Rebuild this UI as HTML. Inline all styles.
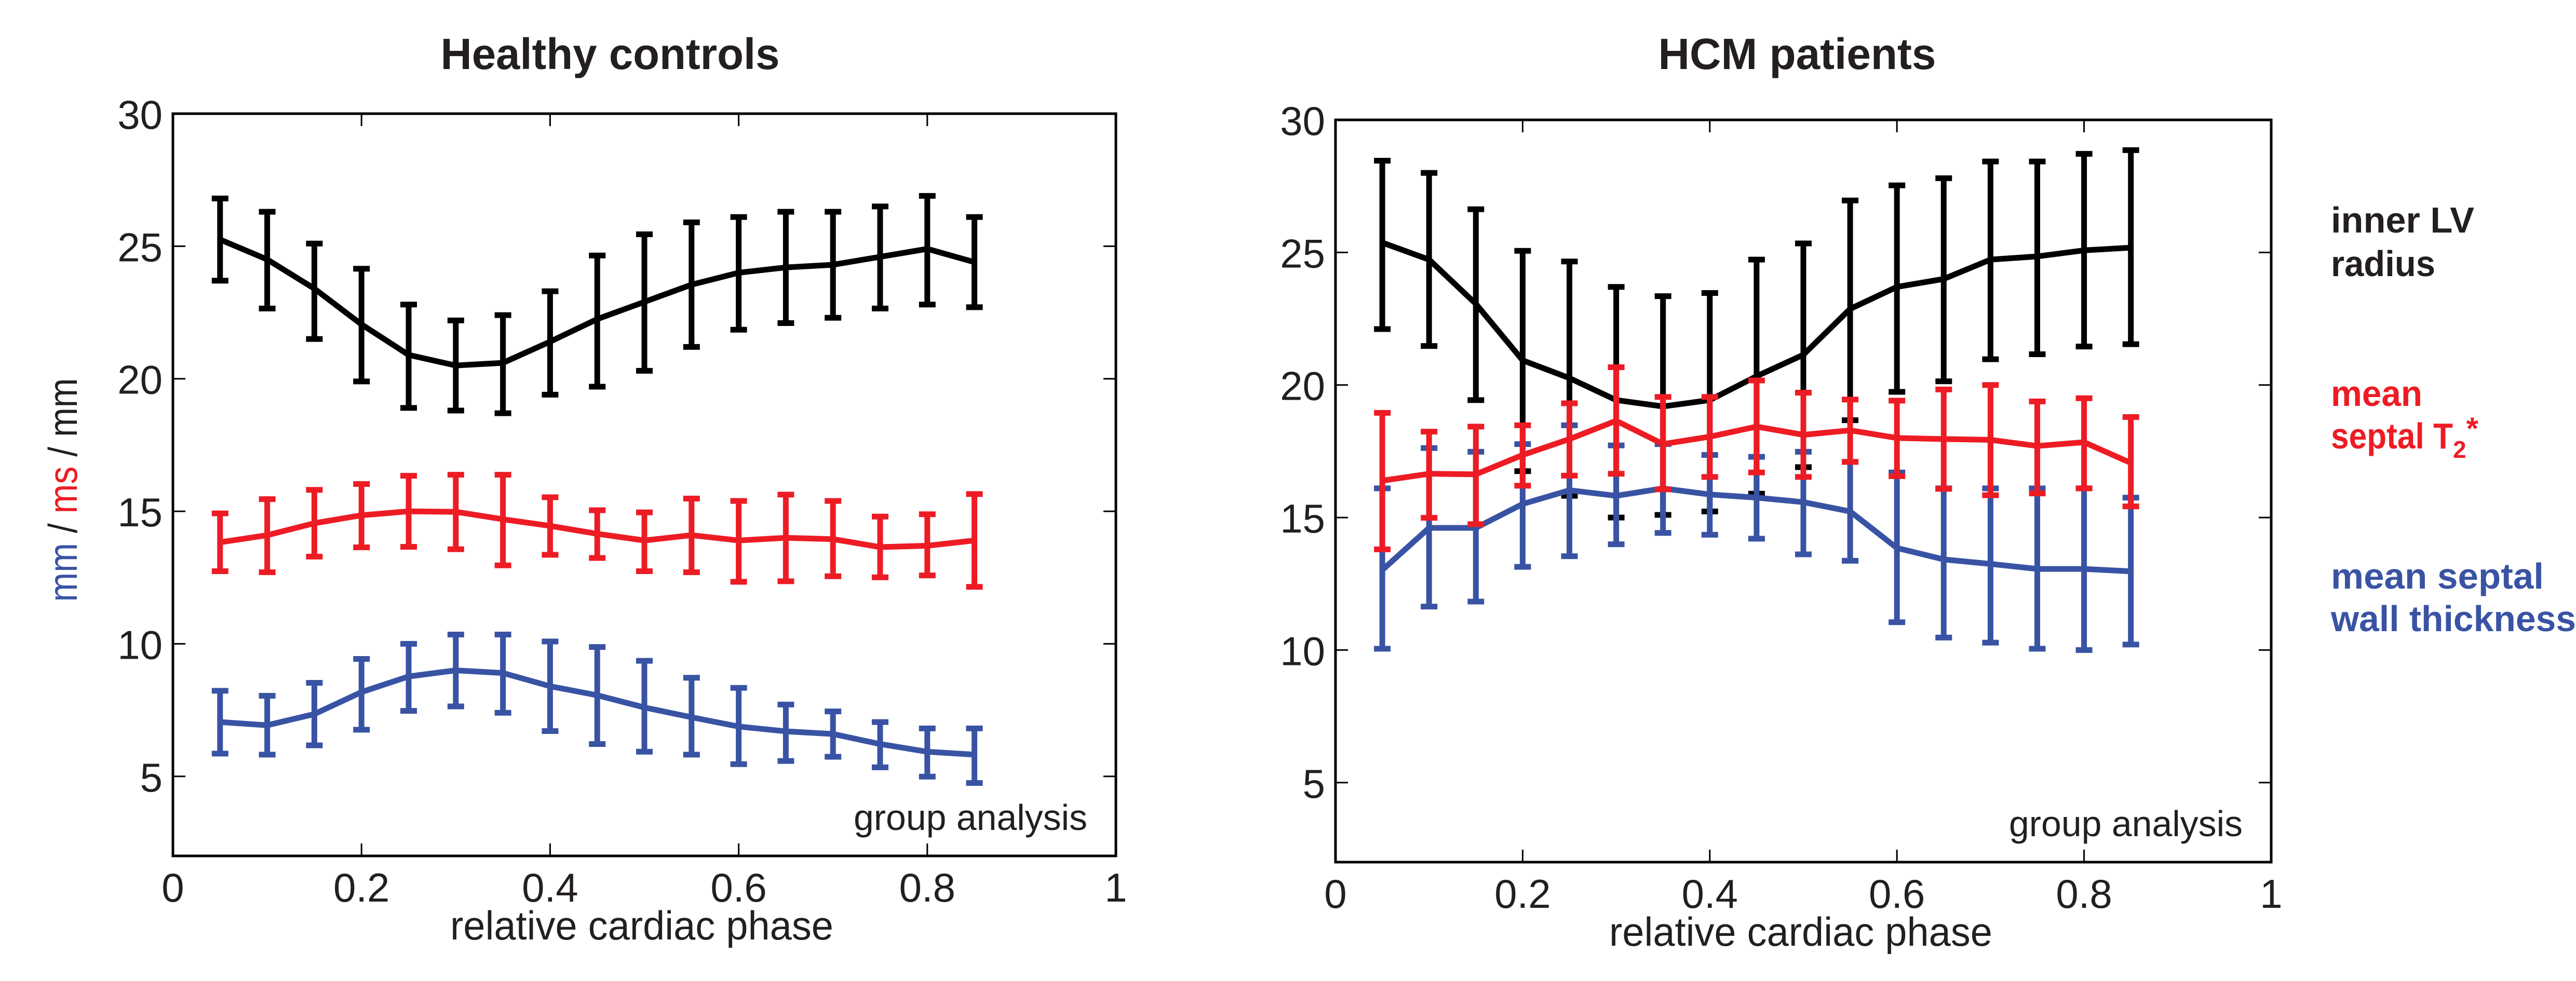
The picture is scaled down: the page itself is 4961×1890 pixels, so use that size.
<!DOCTYPE html>
<html><head><meta charset="utf-8"><style>
html,body{margin:0;padding:0;background:#fff;}
svg{display:block;font-family:"Liberation Sans",Arial,sans-serif;}
</style></head><body>
<svg id="chart" width="4961" height="1890" viewBox="0 0 4961 1890" xmlns="http://www.w3.org/2000/svg">
<rect width="4961" height="1890" fill="#fff"/>
<g id="plots"></g>
<text x="4489" y="448" font-size="70" font-weight="bold" fill="#231f20" textLength="276" lengthAdjust="spacingAndGlyphs">inner LV</text>
<text x="4489" y="532" font-size="70" font-weight="bold" fill="#231f20" textLength="201" lengthAdjust="spacingAndGlyphs">radius</text>
<text x="4489" y="782" font-size="70" font-weight="bold" fill="#ed1c24" textLength="176" lengthAdjust="spacingAndGlyphs">mean</text>
<text x="4489" y="864" font-size="70" font-weight="bold" fill="#ed1c24"><tspan textLength="235" lengthAdjust="spacingAndGlyphs">septal T</tspan><tspan font-size="46" dy="18">2</tspan><tspan dy="-36" font-size="60">*</tspan></text>
<text x="4489" y="1134" font-size="70" font-weight="bold" fill="#3953a4" textLength="410" lengthAdjust="spacingAndGlyphs">mean septal</text>
<text x="4489" y="1216" font-size="70" font-weight="bold" fill="#3953a4" textLength="472" lengthAdjust="spacingAndGlyphs">wall thickness</text>
<text transform="translate(148,944) rotate(-90)" text-anchor="middle" font-size="78" textLength="431" lengthAdjust="spacingAndGlyphs"><tspan fill="#3953a4">mm</tspan><tspan fill="#231f20"> / </tspan><tspan fill="#ed1c24">ms</tspan><tspan fill="#231f20"> / mm</tspan></text>
</svg>
<script>
const phases = [0.05,0.1,0.15,0.2,0.25,0.3,0.35,0.4,0.45,0.5,0.55,0.6,0.65,0.7,0.75,0.8,0.85];
const xTicks = [0,0.2,0.4,0.6,0.8,1];
const xTickLabels = ["0","0.2","0.4","0.6","0.8","1"];
const yTicks = [5,10,15,20,25,30];
const yTickLabels = ["5","10","15","20","25","30"];

// Healthy controls
const hcRadiusMean = [25.25,24.5,23.4,22.05,20.9,20.5,20.6,21.4,22.25,22.9,23.55,24.0,24.2,24.3,24.6,24.9,24.4];
const hcRadiusHi = [26.8,26.3,25.1,24.15,22.8,22.2,22.4,23.3,24.65,25.45,25.9,26.1,26.3,26.3,26.5,26.9,26.1];
const hcRadiusLo = [23.7,22.65,21.5,19.9,18.9,18.8,18.7,19.4,19.7,20.3,21.2,21.85,22.1,22.3,22.65,22.8,22.7];
const hcT2Mean = [13.83,14.1,14.55,14.85,15.0,14.98,14.7,14.45,14.15,13.9,14.1,13.9,14.0,13.95,13.65,13.7,13.9];
const hcT2Hi = [14.92,15.46,15.81,16.03,16.34,16.38,16.38,15.53,15.04,14.96,15.48,15.39,15.63,15.39,14.8,14.89,15.65];
const hcT2Lo = [12.74,12.7,13.29,13.64,13.66,13.57,12.96,13.36,13.24,12.74,12.7,12.34,12.36,12.55,12.51,12.58,12.15];
const hcWallMean = [7.05,6.93,7.35,8.18,8.77,9.0,8.9,8.4,8.06,7.6,7.23,6.88,6.7,6.6,6.22,5.93,5.82];
const hcWallHi = [8.23,8.04,8.53,9.43,10.0,10.35,10.35,10.09,9.88,9.36,8.72,8.34,7.71,7.45,7.05,6.81,6.81];
const hcWallLo = [5.86,5.82,6.17,6.76,7.47,7.64,7.4,6.71,6.22,5.93,5.82,5.46,5.58,5.74,5.34,4.99,4.75];

// HCM patients
const hcmRadiusMean = [25.37,24.73,23.06,20.93,20.26,19.43,19.19,19.43,20.33,21.14,22.87,23.7,24.0,24.73,24.85,25.08,25.18];
const hcmRadiusHi = [28.46,28.0,26.63,25.06,24.66,23.7,23.35,23.47,24.73,25.34,26.96,27.53,27.8,28.43,28.43,28.72,28.86];
const hcmRadiusLo = [22.11,21.47,19.43,16.75,15.82,15.0,15.1,15.23,15.9,16.9,18.67,19.74,20.14,20.97,21.16,21.45,21.54];
const hcmT2Mean = [16.39,16.65,16.63,17.36,17.96,18.65,17.77,18.05,18.43,18.12,18.29,18.0,17.96,17.93,17.7,17.84,17.06];
const hcmT2Hi = [18.95,18.24,18.43,18.48,19.31,20.67,19.55,19.55,20.17,19.71,19.45,19.41,19.83,20.0,19.38,19.5,18.79];
const hcmT2Lo = [13.8,14.99,14.75,16.2,16.58,16.65,16.06,16.53,16.7,16.53,17.1,16.56,16.08,15.84,15.91,16.1,15.42];
const hcmWallMean = [13.02,14.61,14.61,15.51,16.03,15.82,16.1,15.87,15.75,15.58,15.23,13.85,13.42,13.25,13.06,13.06,12.97];
const hcmWallHi = [16.1,17.62,17.48,17.77,18.48,17.72,17.77,17.36,17.29,17.48,17.1,16.7,16.1,16.1,16.1,16.1,15.75];
const hcmWallLo = [10.05,11.64,11.83,13.14,13.54,13.99,14.42,14.35,14.2,13.61,13.37,11.05,10.47,10.28,10.05,10.0,10.21];

const NS = "http://www.w3.org/2000/svg";
const root = document.getElementById("plots");
function mk(tag, attrs, parent){
  const e = document.createElementNS(NS, tag);
  for (const k in attrs) e.setAttribute(k, attrs[k]);
  (parent||root).appendChild(e);
  return e;
}
const BLACK="#000", RED="#ed1c24", BLUE="#3953a4";

function panel(p){
  const g = mk("g", {});
  
  
  const sx = v => p.x0 + (v - 0) / (1 - 0) * (p.x1 - p.x0);
  const sy = v => p.y1 - (v - 2) / (30 - 2) * (p.y1 - p.y0);
  xTicks.forEach((t,i) => {
    const x = sx(t);
    if (i>0 && i<xTicks.length-1){
      mk("line",{x1:x,x2:x,y1:p.y1,y2:p.y1-24,stroke:"#000","stroke-width":3},g);
      mk("line",{x1:x,x2:x,y1:p.y0,y2:p.y0+24,stroke:"#000","stroke-width":3},g);
    }
    const tl = mk("text",{x:x,y:p.y1+88,"text-anchor":"middle","font-size":78,fill:"#231f20"},g);
    tl.textContent = xTickLabels[i];
    
    
  });
  yTicks.forEach((t,i) => {
    const y = sy(t);
    if (t<30){
      mk("line",{x1:p.x0,x2:p.x0+24,y1:y,y2:y,stroke:"#000","stroke-width":3},g);
      mk("line",{x1:p.x1,x2:p.x1-24,y1:y,y2:y,stroke:"#000","stroke-width":3},g);
    }
    const tl = mk("text",{x:p.x0-20,y:y+29,"text-anchor":"end","font-size":78,fill:"#231f20"},g);
    tl.textContent = yTickLabels[i];
    
    
  });
  const box = mk("rect",{x:p.x0,y:p.y0,width:p.x1-p.x0,height:p.y1-p.y0,fill:"none",stroke:"#000","stroke-width":5},g);
  
  
  p.series.forEach(s => {
    const sg = mk("g",{},g);
    
    
    phases.forEach((ph,i) => {
      const x = sx(ph), yh = sy(s.hi[i]), yl = sy(s.lo[i]);
      const eb = mk("path",{d:`M${x},${yh}V${yl}M${x-16},${yh}H${x+16}M${x-16},${yl}H${x+16}`,stroke:s.color,"stroke-width":11,fill:"none"},sg);
      
      
    });
    const d = phases.map((ph,i)=>(i?"L":"M")+sx(ph)+","+sy(s.mean[i])).join("");
    const ln = mk("path",{d:d,stroke:s.color,"stroke-width":11,fill:"none","stroke-linejoin":"round"},sg);
    
    
  });
  const ti = mk("text",{x:p.titleX,y:133,"text-anchor":"middle","font-size":84,"font-weight":"bold",fill:"#231f20",textLength:p.titleW,lengthAdjust:"spacingAndGlyphs"},g);
  ti.textContent = p.title;
  
  
  const xl = mk("text",{x:(p.x0+p.x1)/2-5,y:p.y1+161,"text-anchor":"middle","font-size":78,fill:"#231f20",textLength:738,lengthAdjust:"spacingAndGlyphs"},g);
  xl.textContent = "relative cardiac phase";
  
  
  const ga = mk("text",{x:p.x1-55,y:p.y1-50,"text-anchor":"end","font-size":70,fill:"#231f20",textLength:450,lengthAdjust:"spacingAndGlyphs"},g);
  ga.textContent = "group analysis";
  
  
}

panel({name:"healthy-controls-panel", title:"Healthy controls", titleX:1175, titleW:653, x0:333, x1:2149, y0:219, y1:1649, series:[
  {name:"hc-inner-lv-radius", color:BLACK, mean:hcRadiusMean, hi:hcRadiusHi, lo:hcRadiusLo},
  {name:"hc-septal-t2", color:RED, mean:hcT2Mean, hi:hcT2Hi, lo:hcT2Lo},
  {name:"hc-wall-thickness", color:BLUE, mean:hcWallMean, hi:hcWallHi, lo:hcWallLo}
]});
panel({name:"hcm-patients-panel", title:"HCM patients", titleX:3461, titleW:535, x0:2572, x1:4374, y0:231, y1:1661, series:[
  {name:"hcm-inner-lv-radius", color:BLACK, mean:hcmRadiusMean, hi:hcmRadiusHi, lo:hcmRadiusLo},
  {name:"hcm-wall-thickness", color:BLUE, mean:hcmWallMean, hi:hcmWallHi, lo:hcmWallLo},
  {name:"hcm-septal-t2", color:RED, mean:hcmT2Mean, hi:hcmT2Hi, lo:hcmT2Lo}
]});
</script>
</body></html>
